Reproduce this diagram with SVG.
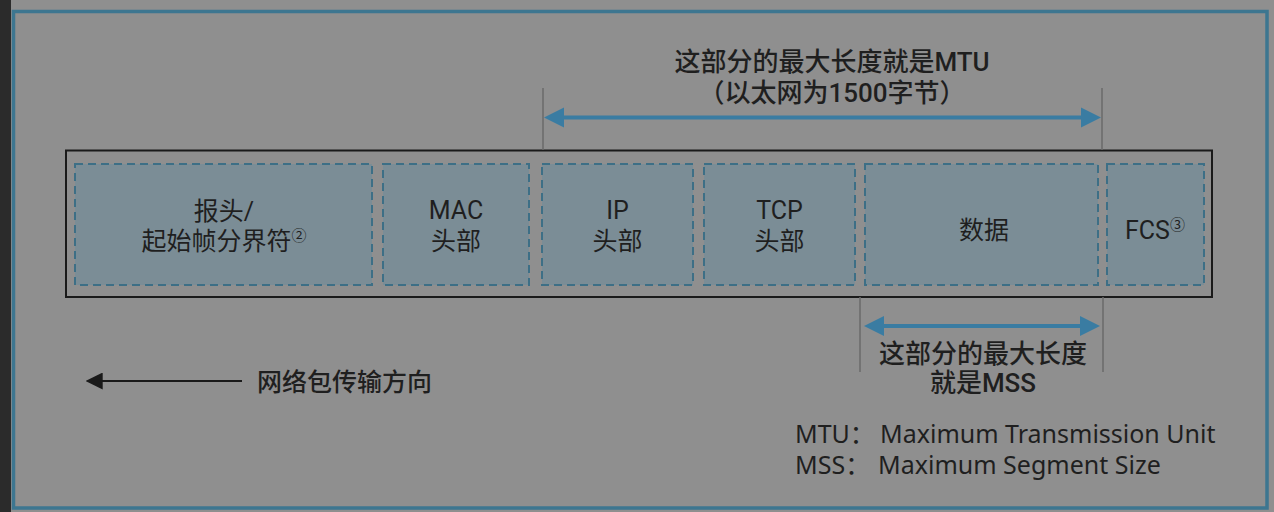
<svg xmlns="http://www.w3.org/2000/svg" width="1274" height="512" viewBox="0 0 1274 512">
<defs>
<style>
.t{font-family:Roboto,"Noto Sans CJK SC",sans-serif;fill:#1f1f1f;}
.lbl{font-size:25px;text-anchor:middle;}
.ttl{font-size:26px;font-weight:500;text-anchor:middle;}
.dir{font-size:25px;font-weight:500;}
.leg{font-family:"Noto Sans","Noto Sans CJK SC",sans-serif;font-size:25px;}
.box{fill:#7b8d96;stroke:#3d6f86;stroke-width:2;stroke-dasharray:8 5;}
.guide{stroke:#6a6a6a;stroke-width:1.5;fill:none;}
.blue{stroke:#3a7ca2;stroke-width:4;fill:none;}
.sup{font-size:15px;}
</style>
<marker id="bh" viewBox="0 0 10 10" refX="1" refY="5" markerWidth="5" markerHeight="6.5" markerUnits="strokeWidth" orient="auto-start-reverse">
<path d="M0,0 L10,5 L0,10 z" fill="#3a7ca2"/>
</marker>
<marker id="kh" viewBox="0 0 10 10" refX="1" refY="5" markerWidth="8.5" markerHeight="8.5" markerUnits="strokeWidth" orient="auto-start-reverse">
<path d="M0,0 L10,5 L0,10 z" fill="#1a1a1a"/>
</marker>
</defs>
<rect x="0" y="0" width="1274" height="512" fill="#8f8f8f"/>
<rect x="0" y="0" width="11" height="512" fill="#2b2b2b"/>
<rect x="13.5" y="11.5" width="1253.5" height="496.5" fill="none" stroke="#3d7690" stroke-width="3.5"/>

<g id="packet">
<rect x="66" y="150.5" width="1146" height="146.5" fill="none" stroke="#1a1a1a" stroke-width="2"/>
</g>

<g id="node-preamble">
<rect class="box" x="75" y="164" width="297" height="121"/>
<text class="t lbl" x="224" y="220">报头/</text>
<text class="t lbl" x="224" y="250">起始帧分界符<tspan class="sup" dy="-9">②</tspan></text>
</g>
<g id="node-mac">
<rect class="box" x="383" y="164" width="146" height="121"/>
<text class="t lbl" x="456" y="219">MAC</text>
<text class="t lbl" x="456" y="250">头部</text>
</g>
<g id="node-ip">
<rect class="box" x="542" y="164" width="151" height="121"/>
<text class="t lbl" x="617.5" y="219">IP</text>
<text class="t lbl" x="617.5" y="250">头部</text>
</g>
<g id="node-tcp">
<rect class="box" x="704" y="164" width="151" height="121"/>
<text class="t lbl" x="779.5" y="219">TCP</text>
<text class="t lbl" x="779.5" y="250">头部</text>
</g>
<g id="node-data">
<rect class="box" x="865" y="164" width="233" height="121"/>
<text class="t lbl" x="984" y="239">数据</text>
</g>
<g id="node-fcs">
<rect class="box" x="1107" y="164" width="97" height="121"/>
<text class="t lbl" x="1155" y="239">FCS<tspan class="sup" dy="-9">③</tspan></text>
</g>

<g id="connectors">
<line class="guide" x1="543" y1="88" x2="543" y2="150"/>
<line class="guide" x1="1102" y1="88" x2="1102" y2="150"/>
<line class="blue" x1="562" y1="117.5" x2="1083" y2="117.5" marker-start="url(#bh)" marker-end="url(#bh)"/>
<line class="guide" x1="860" y1="297" x2="860" y2="372"/>
<line class="guide" x1="1103" y1="297" x2="1103" y2="372"/>
<line class="blue" x1="882" y1="326" x2="1082" y2="326" marker-start="url(#bh)" marker-end="url(#bh)"/>
<line x1="101" y1="381" x2="242" y2="381" stroke="#1a1a1a" stroke-width="2" marker-start="url(#kh)"/>
</g>

<g id="labels">
<text class="t ttl" x="832" y="71">这部分的最大长度就是MTU</text>
<text class="t ttl" x="832" y="102">（以太网为1500字节）</text>
<text class="t ttl" x="983" y="363">这部分的最大长度</text>
<text class="t ttl" x="983" y="392">就是MSS</text>
<text class="t dir" x="257" y="391">网络包传输方向</text>
<text class="leg" x="795" y="443" fill="#1f1f1f">MTU：<tspan x="880">Maximum Transmission Unit</tspan></text>
<text class="leg" x="795" y="474" fill="#1f1f1f">MSS：<tspan x="878">Maximum Segment Size</tspan></text>
</g>
</svg>
